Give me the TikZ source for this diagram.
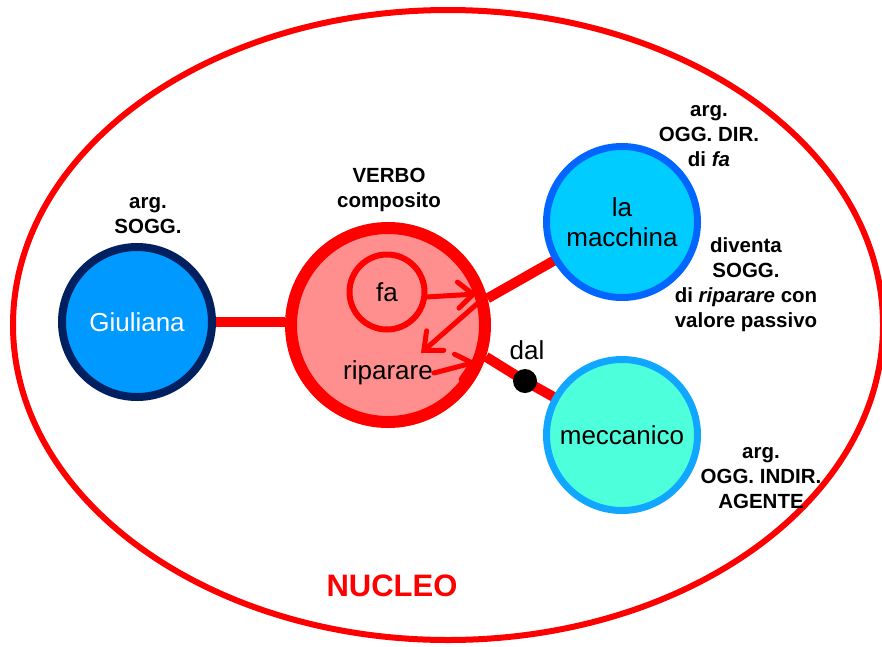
\documentclass[tikz,border=0pt]{standalone}
\usepackage{fontspec}
\setmainfont{Liberation Sans}
\usetikzlibrary{arrows.meta,backgrounds}
\definecolor{giufill}{RGB}{0,153,255}
\definecolor{giuline}{RGB}{0,32,96}
\definecolor{verbofill}{RGB}{255,143,143}
\definecolor{macfill}{RGB}{0,204,255}
\definecolor{macline}{RGB}{0,102,255}
\definecolor{mecfill}{RGB}{77,255,219}
\definecolor{mecline}{RGB}{17,166,255}
\begin{document}
\begin{tikzpicture}[x=1pt,y=-1pt,
  txt/.style={font=\fontsize{26}{30}\selectfont},
  lbl/.style={font=\bfseries\fontsize{20.5}{25}\selectfont, align=center, text=black},
  ball/.style={circle, minimum size=#1, inner sep=0pt, align=center},
  link/.style={draw=red, line width=10pt},
  arr/.style={draw=red, line width=5pt, line cap=round, -{Straight Barb[length=15pt,width=26pt,line cap=round]}},
]
\useasboundingbox (0,0) rectangle (882,646);
% nodes
\node[ball=150pt, fill=giufill, draw=giuline, line width=8pt, text=white, txt] (giu) at (137,322) {Giuliana};
\node[ball=194pt, fill=verbofill, draw=red, line width=12pt] (verbo) at (388,325) {};
\node[ball=75pt, draw=red, line width=6pt, txt] (fa) at (387,292) {fa};
\node[txt, inner sep=1pt] (rip) at (388,373) {riparare};
\node[ball=151pt, fill=macfill, draw=macline, line width=7pt, txt] (mac) at (622,222) {la\\macchina};
\node[ball=151pt, fill=mecfill, draw=mecline, line width=7pt, txt] (mec) at (622,435) {meccanico};
\node[circle, fill=black, minimum size=24pt, inner sep=0pt] (dot) at (525,381) {};
\node[txt] (dal) at (527,350) {dal};
% labels
\node[lbl] (l1) at (148,216) {arg.\\SOGG.};
\node[lbl] (l2) at (389,190) {VERBO\\composito};
\node[lbl] (l3) at (709,136) {arg.\\OGG. DIR.\\di \textit{fa}};
\node[lbl] (l4) at (746,285) {diventa\\SOGG.\\di \textit{riparare} con\\valore passivo};
\node[lbl] (l5) at (761,478) {arg.\\OGG. INDIR.\\AGENTE};
\node[font=\bfseries\fontsize{31}{36}\selectfont, text=red] (nucleo) at (392,586) {NUCLEO};
% arrows inside verb
\coordinate (t1) at (477,294);
\coordinate (s2) at (478,303);
\coordinate (t2) at (421,353);
\coordinate (t3) at (476,362);
\draw[arr] (fa.-7) -- (t1);
\draw[arr] (s2) -- (t2);
\draw[arr] (rip.east) -- (t3);
% connectors and frame behind
\begin{scope}[on background layer]
\draw[red, line width=6pt] (448,325) ellipse [x radius=435, y radius=315];
\draw[link] (giu.east) -- (giu.east -| verbo.west);
\draw[link] (verbo.15) -- (mac.center);
\draw[link] (verbo.-18) -- (dot.center) -- (mec.center);
\end{scope}
\end{tikzpicture}
\end{document}
